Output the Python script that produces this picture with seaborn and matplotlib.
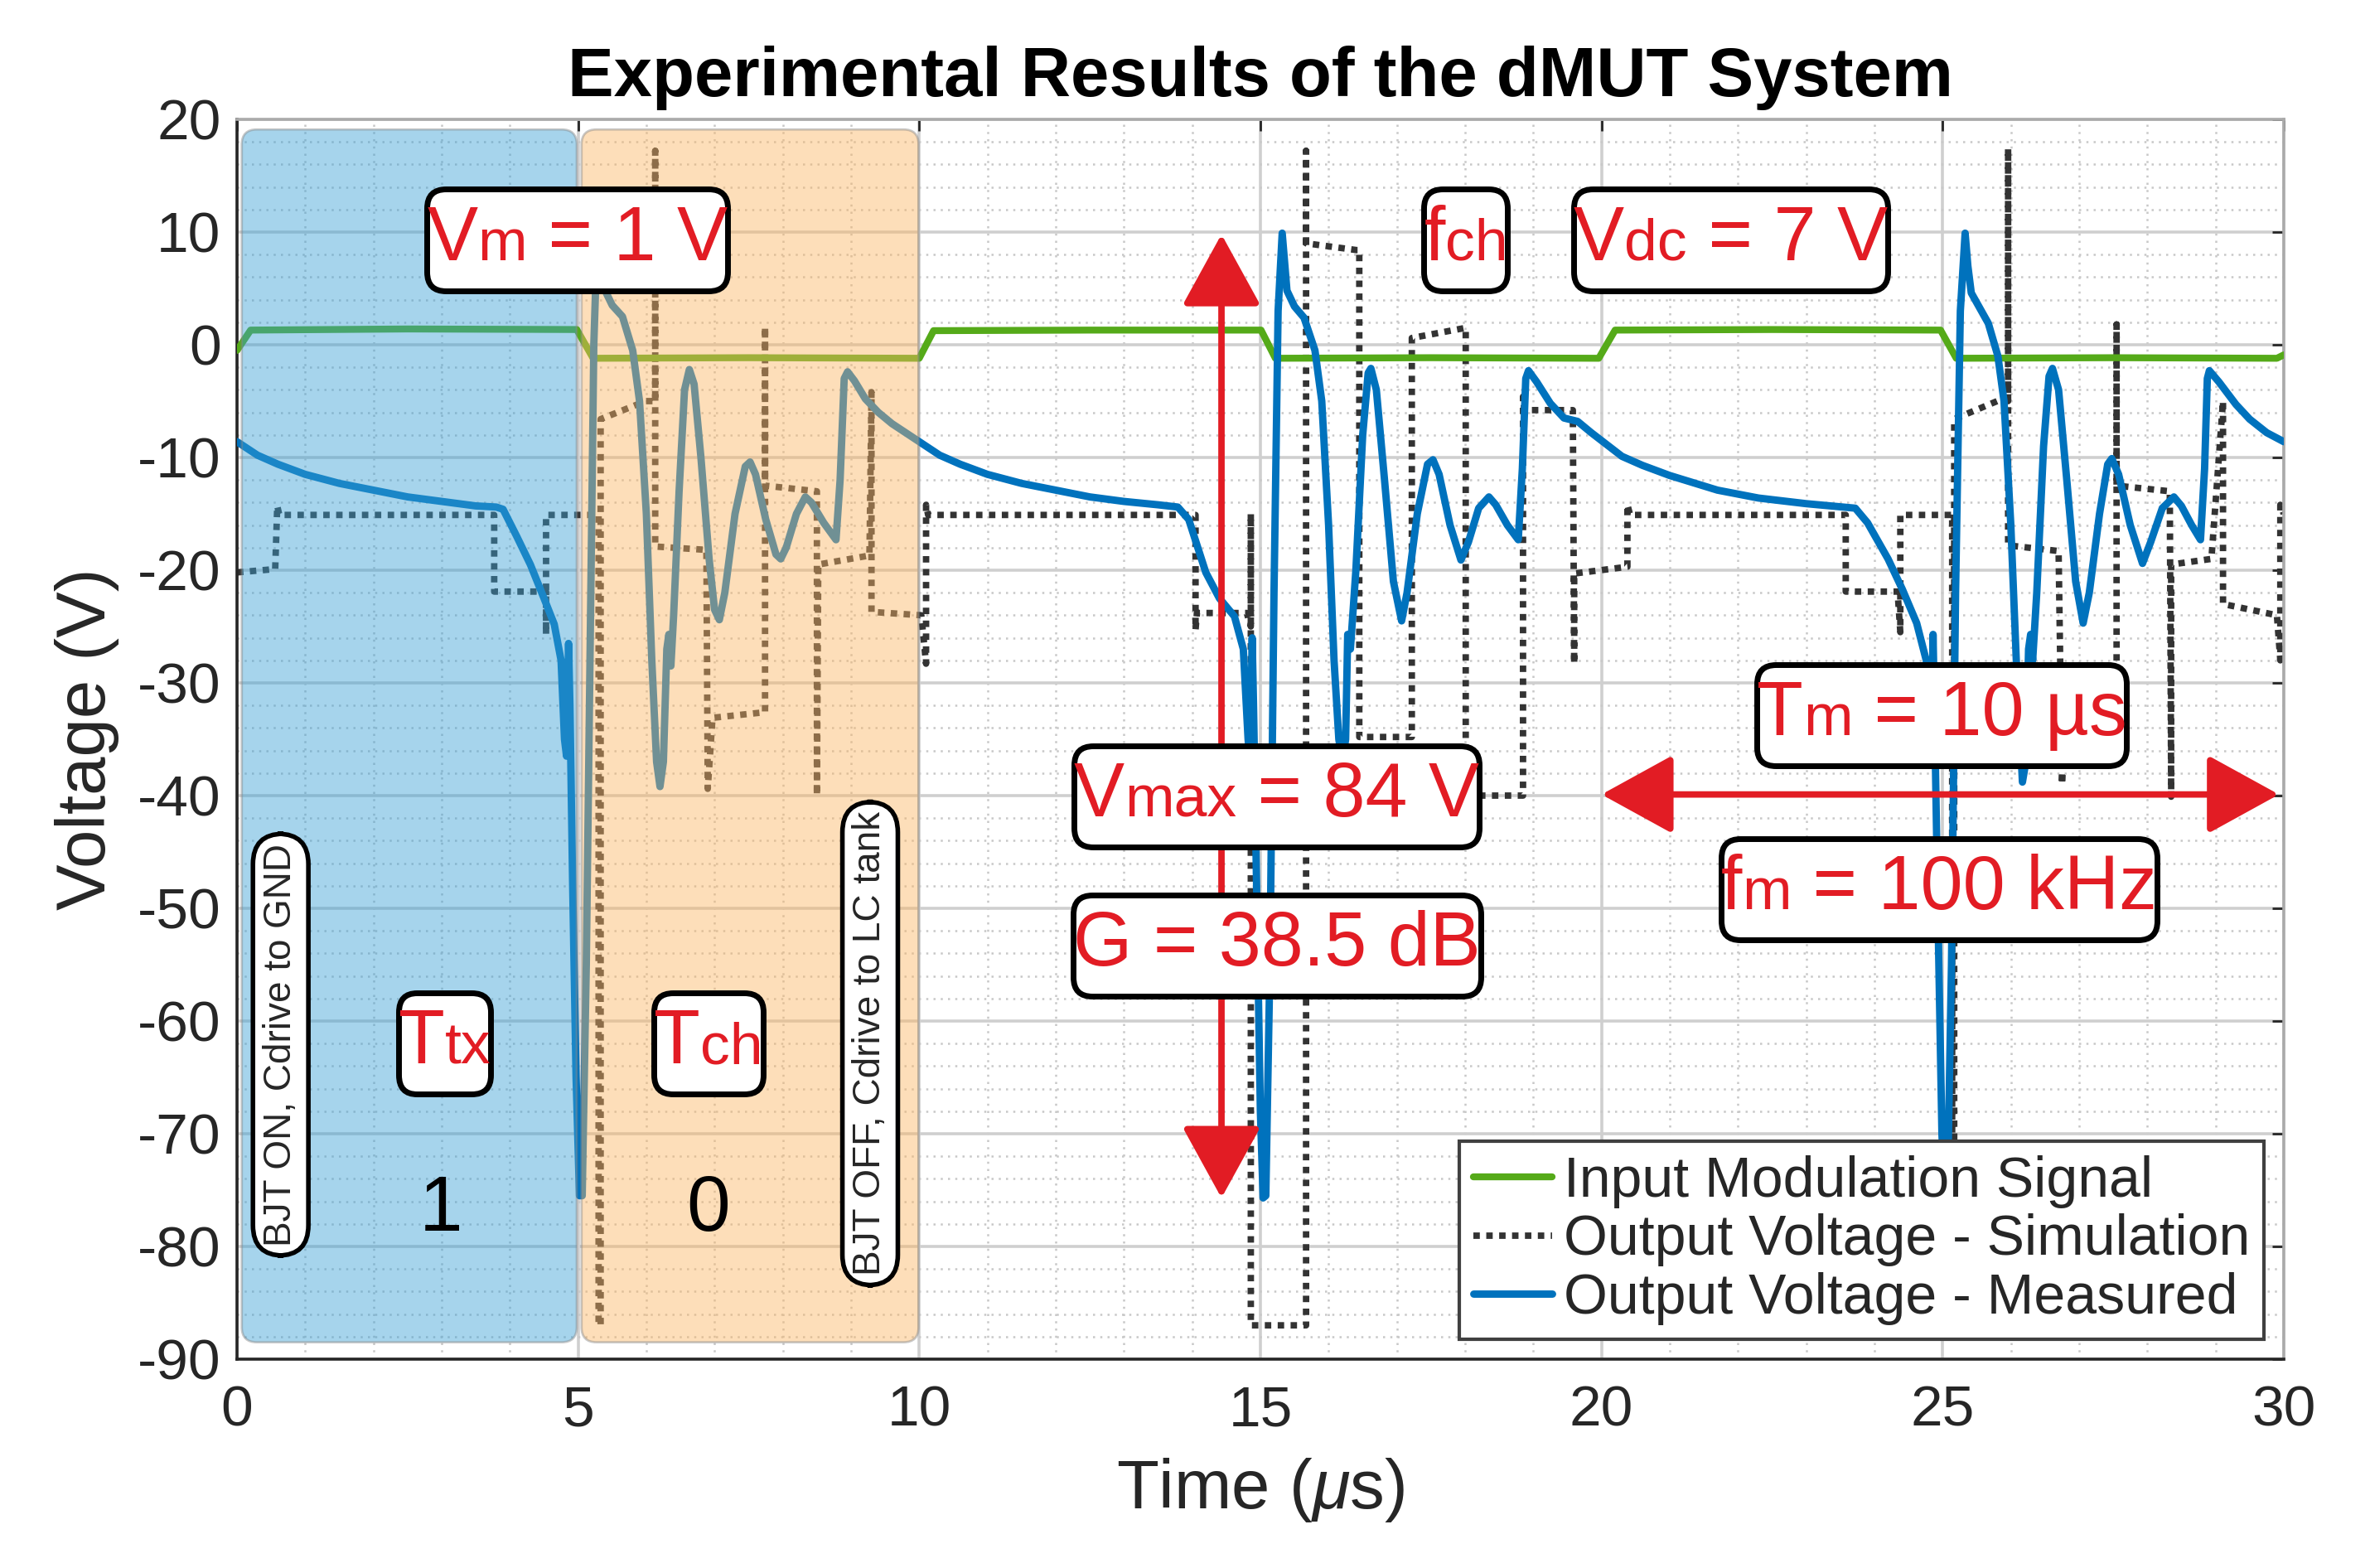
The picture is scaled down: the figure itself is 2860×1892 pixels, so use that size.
import matplotlib
matplotlib.use("Agg")
import matplotlib.pyplot as plt
import seaborn as sns
from matplotlib.patches import FancyBboxPatch
from matplotlib.offsetbox import TextArea, HPacker, VPacker, DrawingArea, AnnotationBbox
from matplotlib.ticker import MultipleLocator

# ---- data ----
mod_t = [0.0, 0.2, 2.5, 4.98, 5.22, 7.5, 10.0, 10.21, 12.5, 15.01, 15.22, 17.5,
         19.96, 20.2, 22.5, 24.97, 25.2, 27.5, 29.9, 30.0]
mod_v = [-0.5, 1.3, 1.4, 1.35, -1.2, -1.15, -1.2, 1.25, 1.3, 1.3, -1.2, -1.15,
         -1.2, 1.3, 1.35, 1.3, -1.2, -1.15, -1.2, -0.9]

sim_t = [0.00, 0.56, 0.59, 0.62, 3.77, 3.77, 4.53, 4.53, 4.53, 5.30, 5.30, 5.33, 5.33,
         5.99, 6.13, 6.13, 6.13, 6.88, 6.90, 6.97, 7.74, 7.74, 7.74, 8.50, 8.50, 8.52,
         9.27, 9.30, 9.30, 10.03, 10.10, 10.10, 10.13, 14.05, 14.05, 14.07, 14.80, 14.86,
         14.86, 14.86, 15.67, 15.67, 15.67, 16.41, 16.45, 16.45, 17.22, 17.22, 18.01,
         18.01, 18.85, 18.85, 18.87, 19.58, 19.60, 19.60, 20.38, 20.38, 20.42, 23.58,
         23.58, 24.34, 24.38, 24.38, 25.14, 25.14, 25.17, 25.17, 25.80, 25.96, 25.96,
         25.96, 26.70, 26.75, 26.80, 27.55, 27.55, 27.55, 28.33, 28.35, 28.35, 28.94,
         29.11, 29.11, 29.90, 29.95, 29.95, 30.00]
sim_v = [-20.2, -19.9, -14.3, -15.1, -15.1, -21.9, -21.9, -25.7, -15.1, -15.1, -87.0, -87.0, -6.6,
         -5.0, -5.0, 17.2, -17.9, -18.2, -39.4, -33.1, -32.6, 1.6, -12.5, -13.0, -40.0, -19.5,
         -18.7, -4.2, -23.7, -24.0, -28.3, -14.2, -15.1, -15.1, -25.3, -23.8, -23.8, -25.0,
         -15.0, -87.0, -87.0, 17.2, 9.0, 8.4, 8.4, -34.8, -34.8, 0.6, 1.5,
         -40.0, -40.0, -4.6, -5.8, -5.8, -28.3, -20.3, -19.7, -14.2, -15.1, -15.1,
         -21.9, -21.9, -25.5, -15.1, -15.1, -87.0, -87.0, -6.6, -5.0, -5.0, 17.4,
         -17.8, -18.3, -39.0, -33.0, -32.6, 1.8, -12.5, -13.0, -40.1, -19.5, -19.0,
         -5.0, -23.0, -24.0, -28.0, -14.2, -15.0]

meas_t = [0.00, 0.30, 0.60, 1.00, 1.50, 2.00, 2.50, 3.00, 3.50, 3.80, 3.90, 4.10, 4.30, 4.50,
          4.65, 4.75, 4.80, 4.83, 4.86, 4.88, 4.92, 4.97, 5.02, 5.06, 5.12, 5.18, 5.23, 5.28,
          5.33, 5.38, 5.50, 5.65, 5.80, 5.90, 6.00, 6.08, 6.15, 6.20, 6.25, 6.30, 6.33, 6.36,
          6.40, 6.48, 6.56, 6.63, 6.70, 6.80, 6.92, 7.00, 7.07, 7.15, 7.30, 7.45, 7.52, 7.60,
          7.75, 7.90, 7.97, 8.05, 8.20, 8.33, 8.42, 8.60, 8.78, 8.84, 8.90, 8.95, 9.05, 9.21,
          9.40, 9.60, 9.80, 10.00,
          10.30, 10.60, 11.00, 11.50, 12.00, 12.50, 13.00, 13.50, 13.79, 13.95, 14.20, 14.40,
          14.62, 14.75, 14.82, 14.85, 14.88, 14.90, 14.95, 15.00, 15.04, 15.08, 15.14, 15.20,
          15.26, 15.32, 15.36, 15.39, 15.50, 15.64, 15.80, 15.90, 16.00, 16.08, 16.15, 16.20,
          16.25, 16.28, 16.32, 16.40, 16.50, 16.58, 16.62, 16.70, 16.82, 16.95, 17.07, 17.15,
          17.30, 17.45, 17.53, 17.62, 17.78, 17.94, 18.05, 18.20, 18.35, 18.45, 18.62, 18.78,
          18.84, 18.89, 18.93, 19.05, 19.25, 19.45, 19.65, 19.85, 20.00,
          20.30, 20.60, 21.00, 21.70, 22.30, 23.00, 23.72, 23.90, 24.20, 24.41, 24.62, 24.76,
          24.82, 24.84, 24.86, 24.88, 24.93, 24.99, 25.03, 25.07, 25.13, 25.19, 25.26, 25.33,
          25.37, 25.42, 25.55, 25.67, 25.81, 25.90, 26.00, 26.08, 26.17, 26.22, 26.26, 26.29,
          26.32, 26.38, 26.48, 26.56, 26.61, 26.70, 26.82, 26.95, 27.06, 27.15, 27.30, 27.42,
          27.48, 27.58, 27.75, 27.93, 28.05, 28.22, 28.39, 28.50, 28.65, 28.78, 28.84, 28.88,
          28.91, 29.05, 29.30, 29.50, 29.75, 30.00]
meas_v = [-8.6, -9.8, -10.6, -11.5, -12.3, -12.9, -13.5, -13.9, -14.3, -14.4, -14.6, -17.0, -19.5, -22.5,
          -24.8, -28.0, -35.0, -36.5, -26.5, -32.0, -48.0, -65.0, -75.5, -75.5, -55.0, -25.0, 0.0, 9.5,
          9.8, 5.0, 3.5, 2.5, -0.5, -5.0, -15.0, -28.0, -37.0, -39.2, -37.0, -27.0, -25.7, -28.5,
          -24.0, -13.0, -4.0, -2.2, -3.5, -10.0, -19.0, -23.5, -24.4, -22.0, -15.0, -10.8, -10.4, -11.5,
          -15.5, -18.6, -19.0, -18.0, -15.0, -13.5, -14.0, -15.8, -17.3, -12.0, -3.0, -2.4, -3.2, -4.8,
          -6.0, -7.0, -7.8, -8.6,
          -9.8, -10.6, -11.5, -12.3, -12.9, -13.5, -13.9, -14.2, -14.4, -15.5, -20.2, -22.5,
          -24.1, -27.0, -35.0, -37.0, -26.0, -32.0, -50.0, -68.0, -75.7, -75.5, -55.0, -22.0,
          3.0, 9.9, 7.0, 4.8, 3.4, 2.4, -0.5, -5.0, -16.0, -28.0, -35.0, -37.0,
          -35.0, -25.7, -27.0, -20.0, -8.0, -2.5, -2.1, -4.0, -12.0, -21.0, -24.5, -22.0,
          -15.0, -10.6, -10.2, -11.5, -16.0, -19.1, -17.5, -14.5, -13.5, -14.2, -16.0, -17.3,
          -11.0, -3.0, -2.3, -3.3, -5.2, -6.5, -6.8, -7.8, -8.5,
          -9.9, -10.7, -11.6, -12.9, -13.6, -14.1, -14.5, -15.8, -19.0, -21.7, -24.7, -28.0,
          -35.0, -36.0, -25.7, -32.0, -50.0, -70.0, -75.7, -75.5, -55.0, -22.0, 3.0, 9.9,
          7.0, 4.6, 3.2, 1.9, -1.0, -5.0, -16.0, -28.0, -38.8, -37.0, -27.0, -25.7,
          -28.0, -22.0, -9.0, -2.8, -2.1, -4.0, -12.0, -21.0, -24.7, -22.0, -15.0, -10.6,
          -10.1, -11.5, -16.0, -19.4, -17.5, -14.5, -13.5, -14.3, -16.0, -17.3, -11.0, -3.0,
          -2.3, -3.3, -5.3, -6.6, -7.8, -8.6]

legend_labels = ["Input Modulation Signal", "Output Voltage - Simulation",
                 "Output Voltage - Measured"]

RED = "#E21C24"
GREEN = "#55AA19"
BLUE = "#0072BD"

sns.set_theme(style="white")
plt.rcParams["font.family"] = ["Liberation Sans", "DejaVu Sans"]
plt.rcParams["axes.unicode_minus"] = False
plt.rcParams["mathtext.fontset"] = "custom"
plt.rcParams["mathtext.rm"] = "Liberation Sans"
plt.rcParams["mathtext.it"] = "Liberation Sans:italic"

fig, ax = plt.subplots(figsize=(14.3, 9.46), dpi=200)
fig.subplots_adjust(left=0.1, right=0.9636, bottom=0.1332, top=0.9239)

sns.lineplot(x=sim_t, y=sim_v, sort=False, estimator=None, ax=ax, color="#333333",
             lw=2.8, linestyle=(0, (1, 1.0)), zorder=2)
sim_line = ax.lines[-1]
sns.lineplot(x=mod_t, y=mod_v, sort=False, estimator=None, ax=ax, color=GREEN,
             lw=3.0, zorder=3)
mod_line = ax.lines[-1]
sns.lineplot(x=meas_t, y=meas_v, sort=False, estimator=None, ax=ax, color=BLUE,
             lw=3.2, zorder=3.5)
meas_line = ax.lines[-1]

# shaded bit regions (drawn on top of traces, semi transparent)
for x0, x1, col in [(0.07, 4.98, "#3aa0d5"), (5.05, 9.99, "#fbb664")]:
    ax.add_patch(FancyBboxPatch((x0, -88.5), x1 - x0, 107.6,
                                boxstyle="round,pad=0,rounding_size=0.22",
                                mutation_aspect=6.06, fc=col, ec="#888888",
                                lw=1.0, alpha=0.45, zorder=4))

ax.set_xlim(0, 30)
ax.set_ylim(-90, 20)
ax.xaxis.set_major_locator(MultipleLocator(5))
ax.xaxis.set_minor_locator(MultipleLocator(1))
ax.yaxis.set_major_locator(MultipleLocator(10))
ax.yaxis.set_minor_locator(MultipleLocator(2))
ax.set_axisbelow(True)
ax.grid(which="major", color="#cfcfcf", lw=1.3, ls="-")
ax.grid(which="minor", color="#c8c8c8", lw=0.9, ls=(0, (1, 2.5)))
ax.tick_params(which="both", direction="in", top=True, right=True, colors="#262626")
ax.tick_params(which="major", length=5, width=1.0, labelsize=25)
ax.tick_params(which="minor", length=0)
ax.tick_params(axis="x", pad=11)
ax.tick_params(axis="y", pad=7)
for s in ["left", "bottom"]:
    ax.spines[s].set_color("#262626")
    ax.spines[s].set_linewidth(1.3)
for s in ["top", "right"]:
    ax.spines[s].set_color("#aaaaaa")
    ax.spines[s].set_linewidth(1.3)

ax.set_title("Experimental Results of the dMUT System", fontsize=30,
             fontweight="bold", pad=10, color="black")
ax.set_xlabel(r"Time ($\mu$s)", fontsize=30, labelpad=8, color="#262626")
ax.set_ylabel("Voltage (V)", fontsize=30, labelpad=8, color="#262626")

# arrows
arrow_style = "<|-|>,head_length=0.6,head_width=0.33"
ax.annotate("", xy=(14.43, 9.8), xytext=(14.43, -75.7),
            arrowprops=dict(arrowstyle=arrow_style, mutation_scale=45, color=RED,
                            lw=2.8, shrinkA=0, shrinkB=0), zorder=5)
ax.annotate("", xy=(29.93, -39.9), xytext=(20.0, -39.9),
            arrowprops=dict(arrowstyle=arrow_style, mutation_scale=45, color=RED,
                            lw=2.8, shrinkA=0, shrinkB=0), zorder=5)


def tag(x, y, main, sub="", rest="", size=33):
    parts = [TextArea(main, textprops=dict(color=RED, size=size))]
    if sub:
        parts.append(TextArea(sub, textprops=dict(color=RED, size=size * 0.78)))
    if rest:
        parts.append(TextArea(rest, textprops=dict(color=RED, size=size)))
    row = HPacker(children=parts, align="baseline", pad=0, sep=0)
    col = VPacker(children=[DrawingArea(1, 6.5), row, DrawingArea(1, 6.5)],
                  align="center", pad=0, sep=0)
    ab = AnnotationBbox(col, (x, y), xycoords="data", frameon=True, pad=0.18,
                        fontsize=size,
                        bboxprops=dict(boxstyle="round,pad=0,rounding_size=0.25",
                                       fc="white", ec="black", lw=2.5),
                        zorder=6)
    ax.add_artist(ab)


tag(4.99, 9.3, "V", "m", " = 1 V")
tag(18.01, 9.3, "f", "ch")
tag(21.89, 9.3, "V", "dc", " = 7 V")
tag(15.24, -40.1, "V", "max", " = 84 V")
tag(15.24, -53.3, "G = 38.5 dB")
tag(24.99, -32.9, "T", "m", " = 10 µs")
tag(24.95, -48.3, "f", "m", " = 100 kHz")
tag(3.04, -62.0, "T", "tx")
tag(6.91, -62.0, "T", "ch")

ax.text(2.99, -76.8, "1", fontsize=34, ha="center", va="center", color="black", zorder=6)
ax.text(6.91, -76.8, "0", fontsize=34, ha="center", va="center", color="black", zorder=6)

side_box = dict(boxstyle="round,pad=0.25,rounding_size=0.8", fc="white", ec="black", lw=2)
ax.text(0.64, -62.1, "BJT ON, Cdrive to GND", rotation=90, fontsize=16.5,
        ha="center", va="center", bbox=side_box, zorder=6)
ax.text(9.28, -62.0, "BJT OFF, Cdrive to LC tank", rotation=90, fontsize=16.5,
        ha="center", va="center", bbox=side_box, zorder=6)

leg = ax.legend([mod_line, sim_line, meas_line], legend_labels, loc="lower right",
                fontsize=24.5, frameon=True, fancybox=False, framealpha=1,
                edgecolor="#404040", handlelength=1.4, handletextpad=0.2,
                labelspacing=0.1, borderpad=0.25, borderaxespad=0.35)
leg.get_frame().set_linewidth(1.5)
leg.set_zorder(7)

fig.savefig("out.png", dpi=200)
plt.close(fig)
